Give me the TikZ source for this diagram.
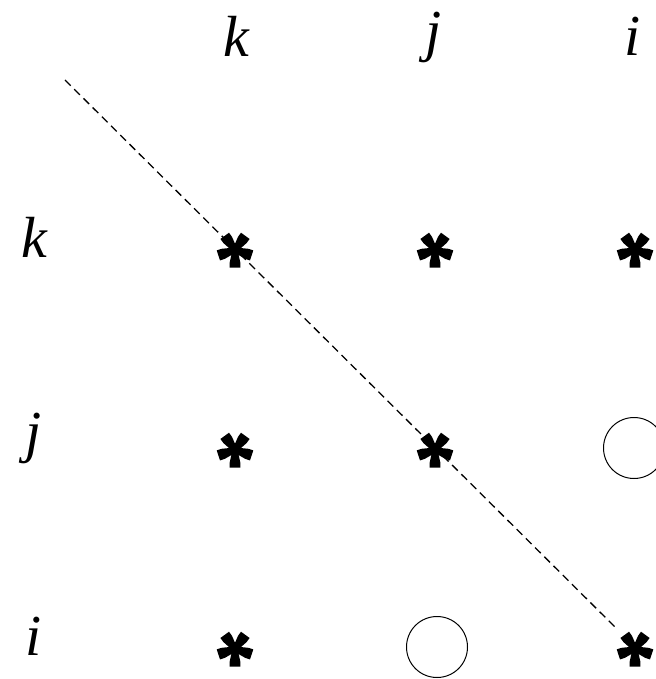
\documentclass[tikz,border=0pt]{standalone}
\usepackage{fontspec}
\setmainfont{Liberation Serif}
\begin{document}
\begin{tikzpicture}[x=1pt,y=-1pt,
  lbl/.style={font=\fontsize{58}{60}\selectfont\itshape, anchor=base, inner sep=0pt},
  ring/.style={circle, draw, line width=1pt, minimum size=61pt, inner sep=0pt},
  diag/.style={dash pattern=on 8pt off 5pt, line width=1.3pt},
  star/.pic={\foreach \a in {-90,-18,-162,54,126}
    {\fill[rotate=\a] (0,-2.6) -- (12.5,-5.3) -- (17.5,-5.3) -- (17.5,5.3) -- (12.5,5.3) -- (0,2.6) -- cycle;}
    \fill (0,0) circle (4);}]
\useasboundingbox (0,0) rectangle (655,679);
% column labels
\node[lbl] (ck) at (236,57) {k};
\node[lbl] (cj) at (434,51) {j};
\node[lbl] (ci) at (633,56) {i};
% row labels
\node[lbl] (rk) at (34,257) {k};
\node[lbl] (rj) at (34,451) {j};
\node[lbl] (ri) at (34,655) {i};
% diagonal
\coordinate (d0) at (65,80);
\coordinate (d1) at (617,629);
\draw[diag] (d0) -- (d1);
% entries
\pic at (235,250) {star};
\pic at (435,450) {star};
\pic at (635,250) {star};
\pic at (435,250) {star};
\pic at (235,450) {star};
\pic at (635,649) {star};
\pic at (235,649) {star};
\node[ring] (c1) at (634,448) {};
\node[ring] (c2) at (437,647) {};
\end{tikzpicture}
\end{document}
